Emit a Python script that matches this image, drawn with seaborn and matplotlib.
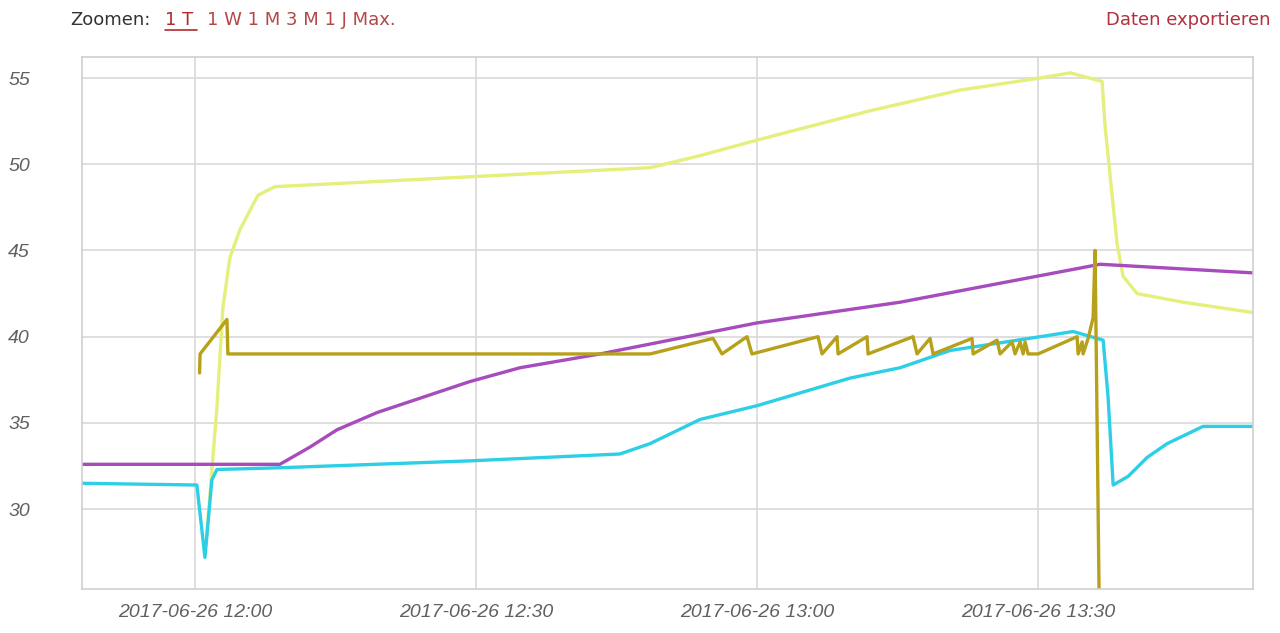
import matplotlib
matplotlib.use("Agg")
import matplotlib.pyplot as plt
import matplotlib.dates as mdates
import seaborn as sns
import pandas as pd

# minutes after 2017-06-26 12:00
yellow_min = [1.17, 2.35, 2.99, 3.74, 4.80, 6.73, 8.54, 48.58, 53.91, 60.0, 72.06,
              81.67, 90.21, 93.42, 96.83, 97.15, 97.69, 98.43, 99.07, 100.57, 105.48, 112.95]
yellow_val = [27.9, 35.9, 41.7, 44.6, 46.2, 48.2, 48.7, 49.8, 50.5, 51.4, 53.1,
              54.3, 55.0, 55.3, 54.8, 52.2, 49.3, 45.4, 43.5, 42.5, 42.0, 41.4]

purple_min = [-12.06, 9.07, 12.28, 15.16, 19.43, 29.36, 34.70, 43.24, 60.0, 75.27, 85.94, 96.62, 112.95]
purple_val = [32.6, 32.6, 33.6, 34.6, 35.6, 37.4, 38.2, 39.0, 40.8, 42.0, 43.1, 44.2, 43.7]

cyan_min = [-12.06, 0.21, 1.07, 1.81, 2.35, 9.07, 29.36, 45.37, 48.58, 53.91, 60.0, 69.93,
            75.27, 80.60, 90.21, 93.74, 96.94, 97.47, 98.01, 99.61, 101.64, 103.77, 107.61, 112.95]
cyan_val = [31.5, 31.4, 27.2, 31.7, 32.3, 32.4, 32.8, 33.2, 33.8, 35.2, 36.0, 37.6,
            38.2, 39.2, 40.0, 40.3, 39.8, 36.5, 31.4, 31.9, 33.0, 33.8, 34.8, 34.8]

gold_min = [0.50, 0.55, 3.42, 3.52, 48.58, 55.30, 56.26, 58.93, 59.46, 66.51, 66.94, 68.54,
            68.65, 71.74, 71.85, 76.65, 77.08, 78.47, 78.79, 82.95, 83.06, 85.62, 85.94,
            87.22, 87.54, 88.08, 88.40, 88.61, 88.93, 90.00, 94.16, 94.27, 94.70, 94.80,
            95.34, 95.87, 96.08, 96.62]
gold_val = [37.9, 39.0, 41.0, 39.0, 39.0, 39.9, 39.0, 40.0, 39.0, 40.0, 39.0, 40.0,
            39.0, 40.0, 39.0, 40.0, 39.0, 39.9, 39.0, 39.9, 39.0, 39.8, 39.0,
            39.7, 39.0, 39.7, 39.0, 39.7, 39.0, 39.0, 40.0, 39.0, 39.7, 39.0,
            39.9, 41.1, 45.0, 20.0]

series = {"T1": (yellow_min, yellow_val), "T2": (purple_min, purple_val),
          "T3": (cyan_min, cyan_val), "T4": (gold_min, gold_val)}
colors = {"T1": "#e4ef7c", "T2": "#a64cbd", "T3": "#2ccfe6", "T4": "#b7a01a"}

start = pd.Timestamp("2017-06-26 12:00")
frames = []
for name, (mins, vals) in series.items():
    frames.append(pd.DataFrame({"zeit": start + pd.to_timedelta(mins, unit="m"),
                                "wert": vals, "kanal": name}))
df = pd.concat(frames, ignore_index=True)

sns.set_style("white")
fig, ax = plt.subplots(figsize=(12.8, 6.33), dpi=100)
fig.subplots_adjust(left=0.064, right=0.979, top=0.91, bottom=0.0695)

sns.lineplot(data=df, x="zeit", y="wert", hue="kanal", hue_order=list(series),
             palette=colors, estimator=None, sort=False, linewidth=2.4,
             legend=False, ax=ax)

ax.set_xlim(start + pd.Timedelta(minutes=-12.06), start + pd.Timedelta(minutes=112.95))
ax.set_ylim(25.37, 56.22)
ax.set_yticks([30, 35, 40, 45, 50, 55])
ax.xaxis.set_major_locator(mdates.MinuteLocator(byminute=[0, 30]))
ax.xaxis.set_major_formatter(mdates.DateFormatter("%Y-%m-%d %H:%M"))
ax.set_xlabel("")
ax.set_ylabel("")
ax.grid(True, color="#d9d9d9", linewidth=1.2)
ax.set_axisbelow(True)
for s in ax.spines.values():
    s.set_color("#cfcfcf")
    s.set_linewidth(1.2)
ax.tick_params(length=0)
ax.tick_params(axis="x", pad=11)
ax.tick_params(axis="y", pad=53)
for lab in ax.get_xticklabels():
    lab.set_fontfamily("Liberation Sans")
    lab.set_fontstyle("italic")
    lab.set_fontsize(14)
    lab.set_color("#606060")
for lab in ax.get_yticklabels():
    lab.set_fontfamily("Liberation Sans")
    lab.set_fontstyle("italic")
    lab.set_fontsize(14)
    lab.set_color("#606060")
    lab.set_horizontalalignment("left")

# header links
ty = 1 - 20 / 633
fig.text(70 / 1280, ty, "Zoomen:", fontsize=13, color="#333333",
         family="DejaVu Sans", va="center", ha="left")
fig.text(165 / 1280, ty, "1 T", fontsize=13, color="#b22a2a",
         family="DejaVu Sans", va="center", ha="left")
fig.add_artist(plt.Line2D([165 / 1280, 197 / 1280], [1 - 30 / 633, 1 - 30 / 633],
                          color="#b22a2a", linewidth=1.2))
fig.text(207 / 1280, ty, "1 W 1 M 3 M 1 J Max.", fontsize=13,
         color="#b34848", family="DejaVu Sans", va="center", ha="left")
fig.text(1270 / 1280, ty, "Daten exportieren", fontsize=13,
         color="#b03040", family="DejaVu Sans", va="center", ha="right")

fig.savefig("out.png", dpi=100)
